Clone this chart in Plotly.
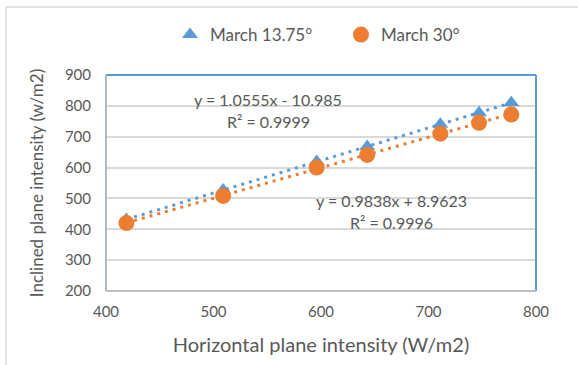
import numpy as np
import plotly.graph_objects as go

x_vals = [419, 509, 596, 643, 711, 747, 777]
y_1375 = [432, 527, 620, 668, 740, 778, 810]
y_30 = [420, 508, 600, 641, 710, 745, 772]

series_names = ["March 13.75°", "March 30°"]
x_ticks = [400, 500, 600, 700, 800]
y_ticks = [200, 300, 400, 500, 600, 700, 800, 900]

blue = "#5b9bd5"
orange = "#ed7d31"
txt = "#595959"
FONT = "Lato, Open Sans, sans-serif"

fig = go.Figure()

xs = np.array(x_vals, dtype=float)
for ys, col in [(y_1375, blue), (y_30, orange)]:
    m, b = np.polyfit(xs, np.array(ys, dtype=float), 1)
    xl = np.array([xs.min(), xs.max()])
    fig.add_trace(go.Scatter(x=xl, y=m * xl + b, mode="lines",
                             line=dict(color=col, width=3, dash="3px,5px"),
                             showlegend=False, hoverinfo="skip"))

fig.add_trace(go.Scatter(x=x_vals, y=y_1375, mode="markers", name=series_names[0],
                         marker=dict(symbol="triangle-up", size=14, color=blue),
                         legend="legend"))
fig.add_trace(go.Scatter(x=x_vals, y=y_30, mode="markers", name=series_names[1],
                         marker=dict(symbol="circle", size=16, color=orange),
                         legend="legend2"))

ann_font = dict(family=FONT, size=16, color=txt)
annots = [
    (551, 819, "y = 1.0555x - 10.985"),
    (551, 748, "R² = 0.9999"),
    (666, 493, "y = 0.9838x + 8.9623"),
    (666, 423, "R² = 0.9996"),
]
for ax_, ay_, t in annots:
    fig.add_annotation(x=ax_, y=ay_, text=t, showarrow=False, font=ann_font,
                       xanchor="center", yanchor="middle")

leg_common = dict(orientation="h", y=1.185, yanchor="middle", xanchor="left",
                  font=dict(family=FONT, size=17, color=txt), itemwidth=30,
                  bgcolor="rgba(0,0,0,0)")

fig.update_layout(
    width=578, height=365,
    margin=dict(l=106, r=42, t=75, b=74),
    paper_bgcolor="white", plot_bgcolor="white",
    font=dict(family=FONT, size=15, color=txt),
    legend=dict(x=(170 - 106) / 430, **leg_common),
    legend2=dict(x=(341 - 106) / 430, **leg_common),
    xaxis=dict(range=[400, 800], tickvals=x_ticks, showgrid=False, zeroline=False,
               showline=False, ticks="", tickfont=dict(size=15, color=txt),
               ticklabelstandoff=10,
               title=dict(text="Horizontal plane intensity (W/m2)",
                          font=dict(size=20, color=txt), standoff=18)),
    yaxis=dict(range=[200, 900], tickvals=y_ticks, showgrid=True, gridcolor="#d9d9d9",
               gridwidth=1.5, zeroline=False, showline=False, ticks="",
               tickfont=dict(size=15, color=txt), ticklabelstandoff=14,
               title=dict(text="Inclined plane intensity (w/m2)",
                          font=dict(size=17, color=txt), standoff=16)),
    shapes=[
        dict(type="line", xref="paper", yref="paper", x0=0, x1=1, y0=1, y1=1,
             line=dict(color=blue, width=2)),
        dict(type="line", xref="paper", yref="paper", x0=1, x1=1, y0=0, y1=1,
             line=dict(color=blue, width=2)),
        dict(type="line", xref="paper", yref="paper", x0=0, x1=0, y0=0, y1=1,
             line=dict(color="#adb9ca", width=2)),
        dict(type="line", xref="paper", yref="paper", x0=0, x1=1, y0=0, y1=0,
             line=dict(color="#bfbfbf", width=2)),
        # outer chart border (left and top)
        dict(type="line", xref="paper", yref="paper",
             x0=(6 - 106) / 430, x1=(6 - 106) / 430, y0=(75 - 365) / 216 + 1, y1=1 + (75 - 7) / 216,
             line=dict(color="#d9d9d9", width=1.5)),
        dict(type="line", xref="paper", yref="paper",
             x0=(6 - 106) / 430, x1=(578 - 106) / 430, y0=1 + (75 - 7) / 216, y1=1 + (75 - 7) / 216,
             line=dict(color="#d9d9d9", width=1.5)),
    ],
)

fig.write_html("out.html")
